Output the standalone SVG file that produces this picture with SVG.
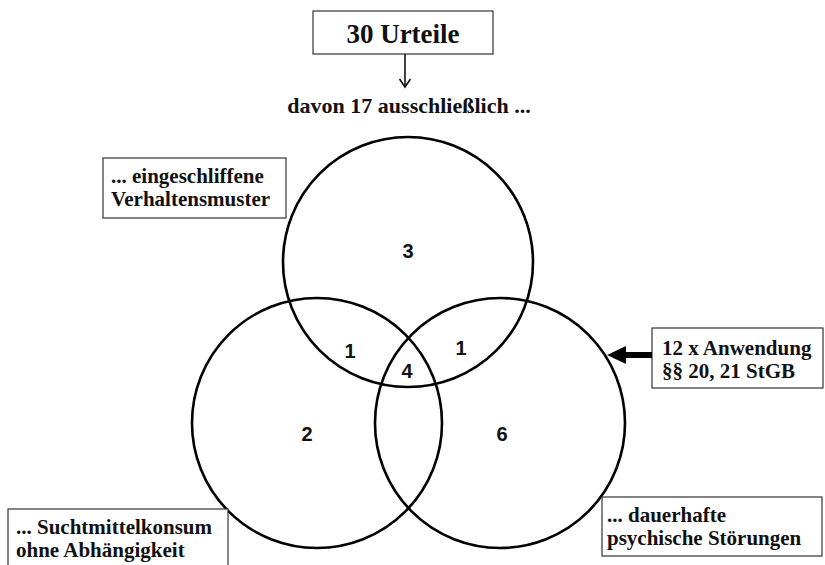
<svg xmlns="http://www.w3.org/2000/svg" width="825" height="565" viewBox="0 0 825 565">
<defs>
<style>
.box{fill:#fff;stroke:#333;stroke-width:1.2}
.lbl{font-family:"Liberation Serif","Times New Roman",serif;font-weight:bold;font-size:21px;fill:#111}
.c{fill:none;stroke:#000;stroke-width:2.6}
.n{font-family:"Liberation Sans",Arial,sans-serif;font-weight:bold;font-size:20px;fill:#111;text-anchor:middle}
</style>
</defs>
<rect width="825" height="565" fill="#fff"/>
<g id="circles">
<circle id="c-top" class="c" cx="408" cy="262" r="125"/>
<circle id="c-left" class="c" cx="317" cy="423" r="125"/>
<circle id="c-right" class="c" cx="500" cy="423" r="125"/>
</g>
<g id="numbers">
<text class="n" x="408" y="258">3</text>
<text class="n" x="350" y="358">1</text>
<text class="n" x="461" y="355">1</text>
<text class="n" x="407" y="378">4</text>
<text class="n" x="307" y="441">2</text>
<text class="n" x="502" y="441">6</text>
</g>
<g id="node-urteile">
<rect class="box" x="313" y="11" width="180" height="43"/>
<text class="lbl" x="403" y="43" text-anchor="middle" style="font-size:27px">30 Urteile</text>
</g>
<g id="node-davon">
<text class="lbl" x="409" y="113" text-anchor="middle" style="font-size:22px">davon 17 ausschließlich ...</text>
</g>
<g id="node-verhalten">
<rect class="box" x="103" y="158" width="183" height="60"/>
<text class="lbl" x="111" y="183">... eingeschliffene</text>
<text class="lbl" x="111" y="206">Verhaltensmuster</text>
</g>
<g id="node-anwendung">
<rect class="box" x="652" y="328" width="171" height="60"/>
<text class="lbl" x="662" y="355">12 x Anwendung</text>
<text class="lbl" x="662" y="378">§§ 20, 21 StGB</text>
</g>
<g id="node-sucht">
<rect class="box" x="8" y="509" width="220" height="70"/>
<text class="lbl" x="16" y="534">... Suchtmittelkonsum</text>
<text class="lbl" x="16" y="557">ohne Abhängigkeit</text>
</g>
<g id="node-dauer">
<rect class="box" x="602" y="497" width="220" height="59"/>
<text class="lbl" x="607" y="522">... dauerhafte</text>
<text class="lbl" x="607" y="545">psychische Störungen</text>
</g>
<g id="connectors">
<line x1="405" y1="54" x2="405" y2="86" stroke="#111" stroke-width="1.6"/>
<path d="M399.5 79 L405 87 L410.5 79" fill="none" stroke="#111" stroke-width="1.6"/>
<line x1="652" y1="355" x2="622" y2="355" stroke="#000" stroke-width="6"/>
<polygon points="607,355 626,346 626,364" fill="#000"/>
</g>
</svg>
